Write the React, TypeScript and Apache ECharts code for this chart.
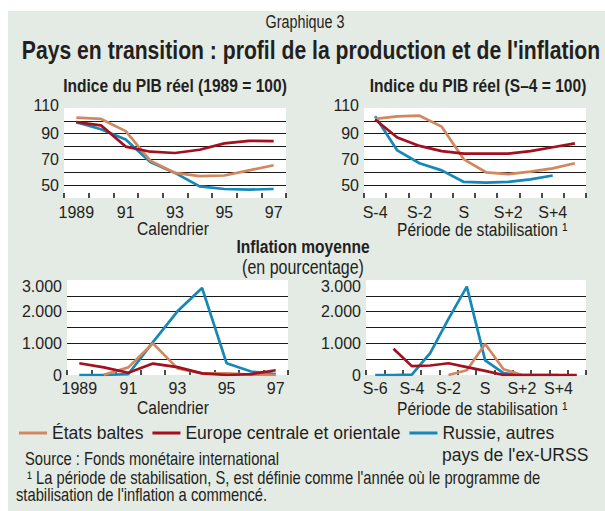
import React, { useEffect, useRef } from 'react';
import * as echarts from 'echarts';

const FONT = "'Liberation Sans', Arial, sans-serif";
const NARROW = 0.82;
const INK = '#231f20';
const BG = '#e4ebe5';
const C_BALT = '#d2875f';
const C_CEE = '#a3101f';
const C_RUS = '#1587b8';

const NAME_BALT = 'États baltes';
const NAME_CEE = 'Europe centrale et orientale';
const NAME_RUS = "Russie, autres pays de l'ex-URSS";

// categories
const yearCats = ['1989', '1990', '1991', '1992', '1993', '1994', '1995', '1996', '1997'];
const stabCatsGdp = ['S-4', 'S-3', 'S-2', 'S-1', 'S', 'S+1', 'S+2', 'S+3', 'S+4', 'S+5'];
const stabCatsInfl = ['S-6', 'S-5', 'S-4', 'S-3', 'S-2', 'S-1', 'S', 'S+1', 'S+2', 'S+3', 'S+4', 'S+5'];

// GDP index, calendar years (1989 = 100)
const gdpCalBaltic = [102.5, 101.5, 92, 69, 59.5, 57, 57.5, 61.5, 65.5];
const gdpCalCentral = [99, 96.5, 80, 76, 75, 77.5, 82.5, 84.5, 84.3];
const gdpCalRussia = [99, 93.5, 85.5, 68, 59.5, 49, 47, 46.5, 47];

// GDP index, stabilisation period (S-4 = 100)
const gdpStabBaltic = [101.5, 103.5, 104, 95.5, 70, 60, 58.5, 60.5, 63, 67];
const gdpStabCentral = [101, 87, 80.5, 76.5, 74.5, 74.5, 74.5, 76.5, 79.5, 82.5];
const gdpStabRussia = [103.5, 77, 67, 61.5, 52.5, 52, 52.5, 54.5, 57.5, null];

// Average inflation, calendar years (percent)
const inflCalBaltic = [null, 10, 240, 1000, 210, 50, 50, 10, 0];
const inflCalCentral = [370, 240, 70, 360, 250, 50, 0, 30, 150];
const inflCalRussia = [0, 0, 30, 1040, 2010, 2750, 370, 110, 30];

// Average inflation, stabilisation period (percent)
const inflStabBaltic = [null, null, null, null, 0, 150, 980, 180, 10, null, null, null];
const inflStabCentral = [null, 830, 280, 300, 370, 250, 130, 0, 0, 0, 0, 0];
const inflStabRussia = [0, 0, 10, 690, 1770, 2790, 460, 60, 0, 0, 0, null];

// tick values shown
const gdpTickLabels = [50, 70, 90, 110];
const inflTickLabels = [0, 1000, 2000, 3000];

const TICK_SIZE = 16;

function mkX(gridIndex: number, cats: string[], margin: number, fmt?: (v: string) => string) {
  return {
    type: 'category',
    gridIndex,
    data: cats,
    boundaryGap: true,
    axisLine: { show: false },
    axisTick: { show: true, inside: true, length: 5, interval: 0, lineStyle: { color: '#111', width: 1.5 } },
    axisLabel: {
      interval: 1,
      margin,
      fontSize: TICK_SIZE,
      fontFamily: FONT,
      color: INK,
      formatter: fmt,
    },
    splitLine: { show: false },
  };
}

const labelRich = {
  down: { fontSize: TICK_SIZE, fontFamily: FONT, color: INK, padding: [12, 0, 0, 0] },
  up: { fontSize: TICK_SIZE, fontFamily: FONT, color: INK, padding: [0, 0, 6, 0] },
};

function mkY(gridIndex: number, min: number, max: number, interval: number, fmt: (v: number) => string) {
  return {
    type: 'value',
    gridIndex,
    min,
    max,
    interval,
    axisLine: { show: false },
    axisTick: { show: false },
    axisLabel: { fontSize: TICK_SIZE, fontFamily: FONT, color: INK, margin: 5, formatter: fmt, rich: labelRich },
    splitLine: { show: true, showMinLine: false, showMaxLine: false, lineStyle: { color: '#1a1a1a', width: 1.2 } },
  };
}

function mkSeries(idx: number, russia: (number | null)[], baltic: (number | null)[], central: (number | null)[]) {
  const base = { type: 'line', xAxisIndex: idx, yAxisIndex: idx, symbol: 'none', showSymbol: false, connectNulls: false };
  return [
    { ...base, name: NAME_RUS, data: russia, lineStyle: { color: C_RUS, width: 2.7 }, itemStyle: { color: C_RUS } },
    { ...base, name: NAME_BALT, data: baltic, lineStyle: { color: C_BALT, width: 2.7 }, itemStyle: { color: C_BALT } },
    { ...base, name: NAME_CEE, data: central, lineStyle: { color: C_CEE, width: 2.7 }, itemStyle: { color: C_CEE } },
  ];
}

function txt(x: number, y: number, text: string, size: number, bold = false, align = 'center', scaleX = NARROW) {
  return {
    type: 'text',
    x,
    y,
    scaleX,
    silent: true,
    style: {
      text,
      fill: INK,
      fontSize: size,
      fontFamily: FONT,
      fontWeight: bold ? 'bold' : 'normal',
      align,
      verticalAlign: 'middle',
    },
  };
}

const yearFmt = (v: string) => (v === '1989' ? v : v.slice(2));
const gdpFmt = (v: number) => {
  if (!gdpTickLabels.includes(v)) return '';
  return v === 110 ? `{up|${v}}` : String(v);
};
const inflFmt = (v: number) => {
  if (!inflTickLabels.includes(v)) return '';
  if (v === 0) return '0';
  const s = `${v / 1000}.000`;
  return v === 3000 ? `{down|${s}}` : s;
};

export default function App() {
  const ref = useRef<HTMLDivElement>(null);
  useEffect(() => {
    if (!ref.current) return;
    const chart = echarts.init(ref.current, undefined, { renderer: 'svg' });
    const gridBase = { show: true, backgroundColor: '#ffffff', borderWidth: 0, containLabel: false, outerBoundsMode: 'none' };
    chart.setOption({
      animation: false,
      backgroundColor: '#ffffff',
      textStyle: { fontFamily: FONT, color: INK },
      grid: [
        { ...gridBase, left: 64, top: 108, width: 222, height: 90 },
        { ...gridBase, left: 364, top: 108, width: 222, height: 90 },
        { ...gridBase, left: 67, top: 280, width: 221, height: 95 },
        { ...gridBase, left: 366, top: 280, width: 220, height: 95 },
      ],
      xAxis: [
        mkX(0, yearCats, 6, yearFmt),
        mkX(1, stabCatsGdp, 6),
        mkX(2, yearCats, 5, yearFmt),
        mkX(3, stabCatsInfl, 5),
      ],
      yAxis: [
        mkY(0, 40, 110, 10, gdpFmt),
        mkY(1, 40, 110, 10, gdpFmt),
        mkY(2, 0, 3000, 500, inflFmt),
        mkY(3, 0, 3000, 500, inflFmt),
      ],
      legend: {
        left: 19,
        top: 423,
        padding: 0,
        itemWidth: 28,
        itemHeight: 3,
        itemGap: 9,
        icon: 'rect',
        selectedMode: false,
        textStyle: { fontSize: 17.5, fontFamily: FONT, color: INK, lineHeight: 20 },
        data: [NAME_BALT, NAME_CEE, NAME_RUS],
        formatter: (name: string) => (name === NAME_RUS ? 'Russie, autres' : name),
      },
      graphic: [
        { type: 'rect', z: -100, silent: true, shape: { x: 8, y: 11, width: 597, height: 500 }, style: { fill: BG } },
        txt(305, 22, 'Graphique 3', 17.5),
        txt(311, 50, "Pays en transition : profil de la production et de l'inflation", 25.8, true),
        txt(175, 85, 'Indice du PIB réel (1989 = 100)', 19, true),
        txt(478, 85, 'Indice du PIB réel (S–4 = 100)', 19, true),
        txt(173, 228, 'Calendrier', 19),
        txt(397, 229, 'Période de stabilisation ¹', 19, false, 'left'),
        txt(303, 246, 'Inflation moyenne', 19, true),
        txt(303, 267, '(en pourcentage)', 19.5),
        txt(173, 407, 'Calendrier', 19),
        txt(397, 408, 'Période de stabilisation ¹', 19, false, 'left'),
        txt(442, 455, "pays de l'ex-URSS", 17.5, false, 'left', 1),
        txt(25, 458, 'Source : Fonds monétaire international', 18, false, 'left'),
        txt(27, 477, "¹ La période de stabilisation, S, est définie comme l'année où le programme de", 18, false, 'left'),
        txt(16, 494, "stabilisation de l'inflation a commencé.", 18, false, 'left'),
      ],
      series: [
        ...mkSeries(0, gdpCalRussia, gdpCalBaltic, gdpCalCentral),
        ...mkSeries(1, gdpStabRussia, gdpStabBaltic, gdpStabCentral),
        ...mkSeries(2, inflCalRussia, inflCalBaltic, inflCalCentral),
        ...mkSeries(3, inflStabRussia, inflStabBaltic, inflStabCentral),
      ],
    });
    return () => chart.dispose();
  }, []);
  return <div ref={ref} style={{ position: 'fixed', left: 0, top: 0, width: 605, height: 511 }} />;
}
